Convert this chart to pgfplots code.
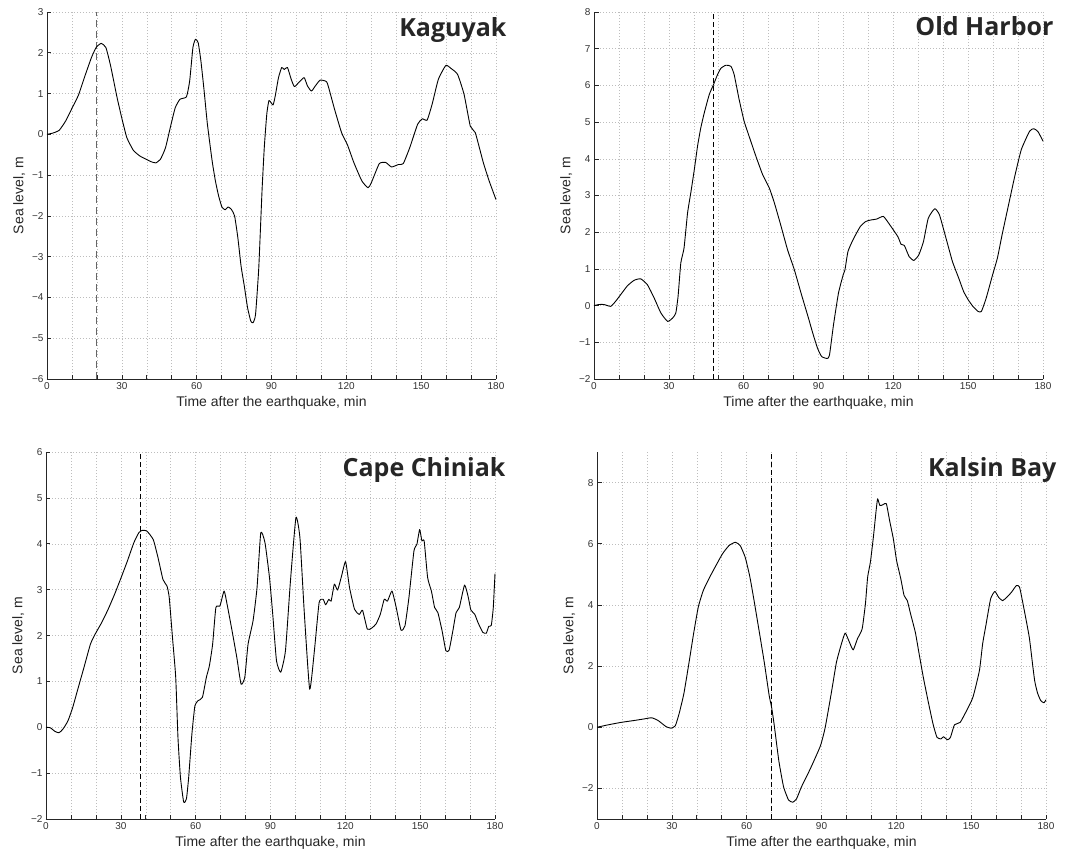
\documentclass[border=0pt]{standalone}
\usepackage{fontspec}
\setmainfont{Liberation Sans}
\newfontfamily\titlefont{Open Sans}
\usepackage{pgfplots}
\pgfplotsset{compat=1.18}

\definecolor{gridgray}{gray}{0.74}

\pgfplotsset{
  tsu/.style={
    scale only axis, width=449pt, height=367pt,
    anchor=south west,
    xmin=0, xmax=180,
    xtick={0,10,...,180},
    xticklabels={0,,,30,,,60,,,90,,,120,,,150,,,180},
    axis x line*=bottom, axis y line*=left,
    axis line style={-, line width=0.6pt, black!85},
    tick align=inside,
    major tick length=4.5pt,
    tick style={line width=0.6pt, black!85},
    grid=major,
    major grid style={gridgray, line width=0.5pt, dash pattern=on 0.6pt off 2.4pt},
    tick label style={font=\fontsize{10}{11}\selectfont, text=black!80},
    label style={font=\fontsize{14}{16}\selectfont, text=black!85},
    xlabel={Time after the earthquake, min},
    ylabel={Sea level, m},
    clip=false,
  },
  curve/.style={black, line width=0.9pt, smooth, tension=0.3, line join=round},
}
\tikzset{ttl/.style={anchor=base east, font=\titlefont\bfseries\fontsize{25}{30}\selectfont, text=black!85, xshift=14pt, yshift=-24pt}}

\begin{document}
\begin{tikzpicture}
\path[use as bounding box] (0pt,0pt) rectangle (1082pt,-854pt);

% ---------------- Kaguyak ----------------
\begin{axis}[tsu, at={(47pt,-379pt)},
  ymin=-6, ymax=3, ytick={-6,-5,...,3},
  yticklabels={−6,−5,−4,−3,−2,−1,0,1,2,3}]
\addplot[gray!80!black, line width=0.9pt, dash pattern=on 7pt off 4pt] coordinates {(20,-6) (20,3)};
\addplot[curve] table {
0 0
2.3 0.03
4.9 0.1
7.5 0.33
10.1 0.65
12.6 0.96
15.2 1.43
17.8 1.88
19.7 2.13
21.7 2.23
23.6 2.13
25.5 1.68
28.1 0.9
30.1 0.37
32 -0.08
34.6 -0.39
37.2 -0.53
39.7 -0.61
41.7 -0.67
43.6 -0.7
45.5 -0.61
47.5 -0.33
49.4 0.16
51.4 0.65
53.3 0.86
55.9 0.92
57.2 1.31
58.5 2.13
59.5 2.33
60.6 2.25
61.7 1.8
63 1.06
64.3 0.25
66.2 -0.65
67.5 -1.14
68.8 -1.51
70.1 -1.78
71.4 -1.85
72.6 -1.78
73.9 -1.84
75.2 -2.0
76.5 -2.53
77.8 -3.23
79.1 -3.72
80.4 -4.25
81.7 -4.58
82.6 -4.62
83.6 -4.42
84.9 -3.27
86.2 -1.39
87.1 -0.33
88.1 0.49
89 0.83
90.6 0.72
91.5 0.94
92.8 1.39
94.1 1.64
95.1 1.59
96.4 1.64
97.9 1.35
99.2 1.17
101.2 1.29
103.1 1.39
104.4 1.19
106 1.06
107.6 1.19
109.5 1.33
112.1 1.29
113.3 1.06
115.3 0.61
118.1 0.04
120.4 -0.25
123 -0.69
126.2 -1.14
128.7 -1.31
130 -1.19
133.2 -0.72
135.8 -0.69
138.1 -0.8
140.9 -0.74
142.8 -0.72
145.4 -0.33
148.6 0.25
150.5 0.38
152.4 0.35
154.4 0.74
156.9 1.35
159.9 1.69
162.1 1.61
164.6 1.47
167.2 0.98
169.7 0.2
171.7 0.04
174.9 -0.69
177.3 -1.15
180 -1.6
};
\node[ttl] at (rel axis cs:1,1) {Kaguyak};
\end{axis}

% ---------------- Old Harbor ----------------
\begin{axis}[tsu, at={(594pt,-379pt)},
  ymin=-2, ymax=8, ytick={-2,-1,...,8},
  yticklabels={−2,−1,0,1,2,3,4,5,6,7,8}]
\addplot[black, line width=0.8pt, dash pattern=on 5pt off 3pt] coordinates {(48,-2) (48,8)};
\addplot[curve] table {
0 0
2 0.03
4 0.03
6.7 -0.02
8.7 0.12
10.7 0.3
13.4 0.54
16.1 0.69
18.7 0.73
21.4 0.57
24.1 0.21
26.8 -0.2
29.5 -0.43
31.5 -0.34
32.8 -0.2
33.7 0.25
34.8 1.16
36.1 1.57
37.5 2.52
38.8 3.07
40.2 3.7
41.5 4.34
42.8 4.84
44.2 5.25
46.2 5.75
47.9 6.02
49.5 6.29
50.9 6.47
52.9 6.55
54.9 6.52
56.2 6.29
58.2 5.61
60.2 5.02
62.2 4.61
64.9 4.07
67.6 3.57
70.3 3.2
72.3 2.8
75 2.16
77.6 1.52
80.3 0.98
83 0.34
85.8 -0.3
87.7 -0.75
89.6 -1.16
91.3 -1.39
93.5 -1.44
94.4 -1.35
96 -0.53
98 0.34
99.9 0.84
100.6 0.97
101.8 1.47
103.8 1.79
106.7 2.15
108.9 2.29
110.8 2.33
113.4 2.36
116 2.43
118.6 2.2
121.8 1.88
123.1 1.67
124.4 1.64
126.3 1.34
128.2 1.23
130.2 1.38
132.1 1.75
134 2.38
136.6 2.64
138.5 2.47
141.1 1.84
143.7 1.2
146.2 0.75
148.2 0.38
150.1 0.15
152 -0.03
154 -0.16
155.3 -0.16
157.2 0.2
159.8 0.84
161.7 1.29
163.6 1.93
166.2 2.75
168.8 3.56
171.3 4.25
174.6 4.75
176.3 4.82
178 4.74
180 4.48
};
\node[ttl] at (rel axis cs:1,1) {Old Harbor};
\end{axis}

% ---------------- Cape Chiniak ----------------
\begin{axis}[tsu, at={(46pt,-819pt)},
  ymin=-2, ymax=6, ytick={-2,-1,...,6},
  yticklabels={−2,−1,0,1,2,3,4,5,6}]
\addplot[black, line width=0.8pt, dash pattern=on 5pt off 3pt] coordinates {(38,-2) (38,6)};
\addplot[curve] table {
0 0
1.7 -0.01
3.6 -0.09
5.2 -0.12
6.8 -0.04
8.8 0.14
10.7 0.43
12.6 0.8
15.2 1.3
17.8 1.81
19.7 2.03
22.3 2.28
24.9 2.57
27.5 2.9
30.1 3.26
32.6 3.62
35.2 4.02
37.2 4.24
38.5 4.29
40.4 4.28
43 4.09
44.9 3.7
46.9 3.22
48.5 3.08
49.4 2.83
50.7 1.96
52 1.09
52.9 -0.22
53.9 -1.09
55.2 -1.63
56.3 -1.56
57.2 -1.09
58.5 -0.14
59.7 0.47
61 0.58
62.7 0.65
64.3 1.09
65.5 1.34
66.8 1.81
68.1 2.61
69.7 2.64
71.4 2.97
72.6 2.68
74.6 2.1
76.5 1.52
78.2 0.94
79.7 1.09
81 1.81
83 2.32
84.6 3.04
86.1 4.24
87.8 4.02
89.6 3.26
90.9 2.46
92.4 1.45
94.1 1.2
96 1.67
98 3.19
100.2 4.57
101.8 4.13
103.5 2.54
105.7 0.83
107.6 1.67
109.5 2.72
111.1 2.79
112.1 2.67
113.4 2.79
114.3 2.75
115.6 3.12
116.9 2.99
118.5 3.3
120.1 3.61
121.7 3.04
123.7 2.57
125.6 2.46
126.9 2.55
128.8 2.14
130.5 2.16
132.3 2.25
134 2.46
135.6 2.79
136.9 2.75
138.7 2.97
140.4 2.61
142.3 2.12
143.9 2.21
145.5 2.83
147.5 3.84
148.7 3.99
149.8 4.31
150.7 4.06
151.6 4.06
153 3.26
154.5 2.97
155.8 2.61
157.1 2.5
158.8 2.1
160.3 1.67
161.6 1.68
163.1 2.1
164.4 2.5
165.7 2.61
167.8 3.1
169.3 2.83
170.3 2.56
171.9 2.46
173.2 2.28
175.1 2.07
176.5 2.05
177.5 2.2
178.5 2.22
179.3 2.6
180 3.35
};
\node[ttl] at (rel axis cs:1,1) {Cape Chiniak};
\end{axis}

% ---------------- Kalsin Bay ----------------
\begin{axis}[tsu, at={(597pt,-819pt)},
  ymin=-3, ymax=9, ytick={-2,0,...,8},
  yticklabels={−2,0,2,4,6,8}]
\addplot[black, line width=0.8pt, dash pattern=on 5pt off 3pt] coordinates {(70,-3) (70,9)};
\addplot[curve] table {
0 0
4.5 0.08
9.7 0.16
14.8 0.22
18.7 0.27
21.9 0.31
24.5 0.22
27.7 0.02
29.7 -0.03
31.4 0.05
32.9 0.44
34.8 1.09
36.8 2.07
38.7 3.05
40.6 3.93
42.6 4.47
45.2 4.91
47.7 5.29
50.3 5.67
52.9 5.94
55.5 6.05
57.4 5.94
59.4 5.56
61.3 4.91
63.2 4.03
65.2 3.05
67.1 2.1
69 1.05
70 0.65
71 0.1
72.9 -1.1
74.8 -1.95
76.8 -2.38
78.5 -2.45
80 -2.34
81.9 -1.96
84.5 -1.53
86.4 -1.2
89.6 -0.6
91.5 0
94.1 1.2
96 2.13
98 2.73
99.5 3.08
101.2 2.78
102.7 2.53
104.4 2.89
106.3 3.22
107.6 4.03
108.5 4.91
109.6 5.4
110.8 6.22
111.9 7.09
112.5 7.47
113.4 7.25
114.7 7.28
116 7.31
117.3 6.76
118.8 6.16
120.1 5.45
121.8 4.85
123.1 4.31
124.4 4.14
125.7 3.71
127.6 3.11
128.9 2.51
130.8 1.64
132.7 0.87
134.7 0.11
136.3 -0.33
137.9 -0.38
138.9 -0.31
140.5 -0.41
141.7 -0.33
143.3 0.08
145.6 0.16
148.2 0.55
150.7 0.98
153.3 1.85
154.6 2.73
155.9 3.33
157.8 4.2
159.5 4.44
161 4.25
162.6 4.14
164.3 4.25
166.2 4.42
168.1 4.63
169.4 4.58
171.3 3.82
173.3 2.94
174.6 2.07
175.5 1.5
176.6 1.12
177.9 0.87
179.2 0.8
180 0.9
};
\node[ttl] at (rel axis cs:1,1) {Kalsin Bay};
\end{axis}
\end{tikzpicture}
\end{document}
